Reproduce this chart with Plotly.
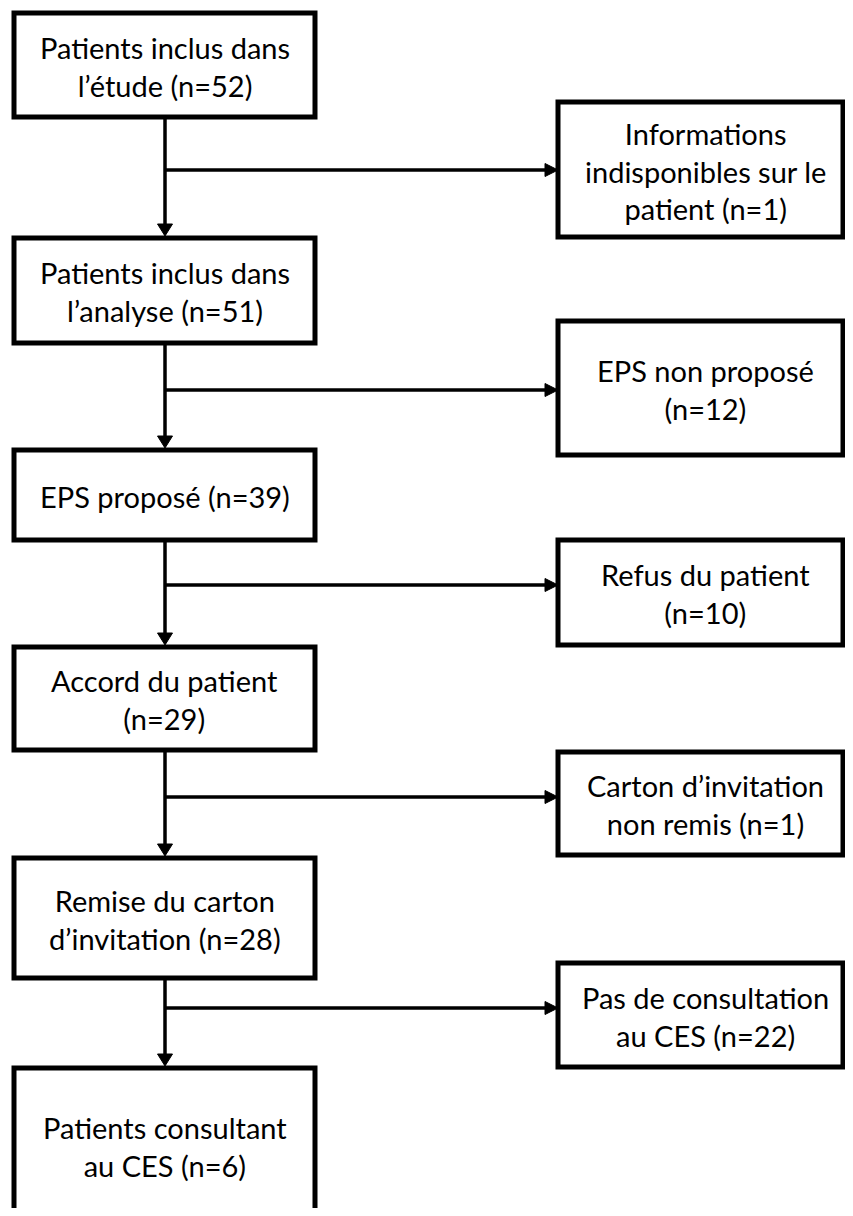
import plotly.graph_objects as go

# ---- data (text content) ----
main_text = ["Patients inclus dans<br>l’étude", "Patients inclus dans<br>l’analyse", "EPS proposé",
             "Accord du patient", "Remise du carton<br>d’invitation", "Patients consultant<br>au CES"]
main_n = [52, 51, 39, 29, 28, 6]
main_sep = [" ", " ", " ", "<br>", " ", " "]

side_text = ["Informations<br>indisponibles sur le<br>patient", "EPS non proposé", "Refus du patient",
             "Carton d’invitation<br>non remis", "Pas de consultation<br>au CES"]
side_n = [1, 12, 10, 1, 22]
side_sep = [" ", "<br>", "<br>", " ", " "]

# ---- layout geometry (pixels, y down) ----
W, H = 853, 1216
PAGE_OFF = 8      # default body margin of the html page
main_x = (14, 315)
main_y = [(13, 117), (238, 343), (450, 540), (647, 750), (858, 978), (1068, 1222)]
side_x = (558, 843)
side_y = [(102, 237), (321, 455), (540, 645), (752, 855), (963, 1067)]
branch_y = [170, 390, 585, 797, 1008]
spine_x = 165

FONT = dict(family="Lato, Carlito, Calibri, sans-serif", size=29, color="black")
BOX_W = 5
LINE_W = 3.5

shapes = []
annotations = []

def label(t, n, sep):
    return f"{t}{sep}(n={n})"

for (y0, y1), t, n, s in zip(main_y, main_text, main_n, main_sep):
    shapes.append(dict(type="rect", x0=main_x[0], x1=main_x[1], y0=y0, y1=y1,
                       line=dict(color="black", width=BOX_W), fillcolor="white", layer="above"))
    annotations.append(dict(x=(main_x[0] + main_x[1]) / 2, y=(y0 + y1) / 2 + 1, text=label(t, n, s),
                            showarrow=False, font=FONT, xanchor="center", yanchor="middle"))

for (y0, y1), t, n, s in zip(side_y, side_text, side_n, side_sep):
    shapes.append(dict(type="rect", x0=side_x[0], x1=side_x[1], y0=y0, y1=y1,
                       line=dict(color="black", width=BOX_W), fillcolor="white", layer="above"))
    annotations.append(dict(x=(side_x[0] + side_x[1]) / 2 + 5, y=(y0 + y1) / 2 + 1, text=label(t, n, s),
                            showarrow=False, font=FONT, xanchor="center", yanchor="middle"))

AH_D = 14   # down arrow head length
AH_R = 12   # right arrow head length
for i in range(len(main_y) - 1):
    y_from = main_y[i][1]
    y_to = main_y[i + 1][0]
    shapes.append(dict(type="line", x0=spine_x, x1=spine_x, y0=y_from, y1=y_to - AH_D + 1,
                       line=dict(color="black", width=LINE_W), layer="below"))
    shapes.append(dict(type="path",
                       path=f"M {spine_x - 7.5} {y_to - AH_D} L {spine_x + 7.5} {y_to - AH_D} L {spine_x} {y_to - 2} Z",
                       fillcolor="black", line=dict(color="black", width=1), layer="below"))
    by = branch_y[i]
    sx = side_x[0]
    shapes.append(dict(type="line", x0=spine_x, x1=sx - AH_R + 1, y0=by, y1=by,
                       line=dict(color="black", width=LINE_W), layer="below"))
    shapes.append(dict(type="path",
                       path=f"M {sx - AH_R - 1} {by - 6.5} L {sx - AH_R - 1} {by + 6.5} L {sx} {by} Z",
                       fillcolor="black", line=dict(color="black", width=1), layer="below"))

fig = go.Figure()
fig.update_layout(
    width=W - PAGE_OFF, height=H - 2 * PAGE_OFF,
    margin=dict(l=0, r=0, t=0, b=0),
    paper_bgcolor="white", plot_bgcolor="white",
    xaxis=dict(range=[PAGE_OFF, W], visible=False, fixedrange=True),
    yaxis=dict(range=[H - PAGE_OFF, PAGE_OFF], visible=False, fixedrange=True),
    shapes=shapes, annotations=annotations, showlegend=False,
)
fig.write_html("out.html")
